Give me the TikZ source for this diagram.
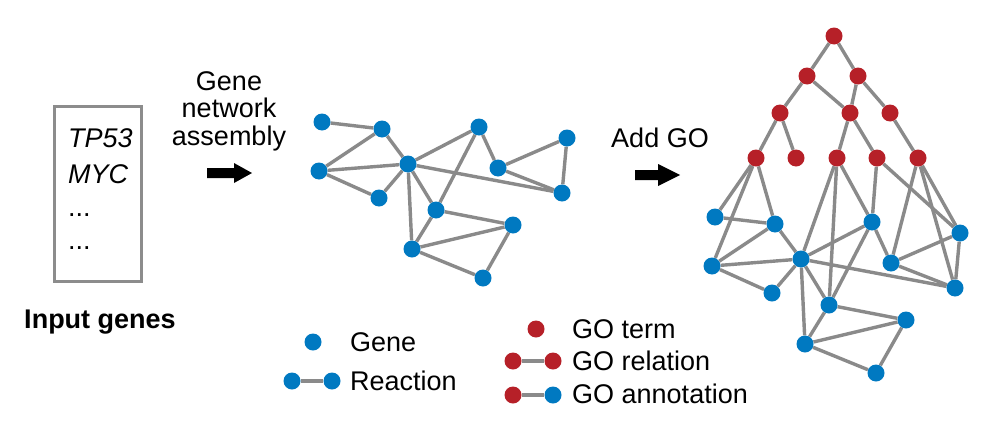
\documentclass[tikz,border=0pt]{standalone}
\usepackage{fontspec}
\setmainfont{Liberation Sans}
\usetikzlibrary{backgrounds}
\definecolor{geneblue}{RGB}{0,121,193}
\definecolor{gored}{RGB}{182,32,40}
\definecolor{edgegray}{RGB}{138,138,138}
\definecolor{boxgray}{RGB}{140,140,140}
\begin{document}
\begin{tikzpicture}[x=1pt,y=-1pt,
  gene/.style={circle,fill=geneblue,inner sep=0pt,minimum size=17pt},
  goterm/.style={circle,fill=gored,inner sep=0pt,minimum size=17pt},
  link/.style={draw=edgegray,line width=3.4pt},
  lbl/.style={font=\fontsize{27}{32}\selectfont,inner sep=0pt},
  blockarrow/.style={fill=black}]
\useasboundingbox (0,0) rectangle (1000,431);

% input box
\node[draw=boxgray,line width=3pt,minimum width=87pt,minimum height=175pt,inner sep=0pt] (box) at (98,194) {};
\node[lbl,anchor=base west] (g1) at (68,147) {\itshape TP53};
\node[lbl,anchor=base west] (g2) at (68,183) {\itshape MYC};
\node[lbl,anchor=base west] (g3) at (68,216) {...};
\node[lbl,anchor=base west] (g4) at (68,249) {...};
\node[lbl,anchor=base] (inlbl) at (100,328) {\bfseries Input genes};

% step labels
\node[lbl,anchor=base] (s1) at (229,90) {Gene};
\node[lbl,anchor=base] (s2) at (229,117) {network};
\node[lbl,anchor=base] (s3) at (229,145) {assembly};
\node[lbl,anchor=base] (s4) at (660,147) {Add GO};

% block arrows
\fill[blockarrow] (207,168) -- (234,168) -- (234,163) -- (252,173) -- (234,183) -- (234,178) -- (207,178) -- cycle;
\fill[blockarrow] (635,170) -- (658,170) -- (658,164) -- (680,175) -- (658,186) -- (658,180) -- (635,180) -- cycle;

% gene networks
\foreach \n/\x/\y in {A/322/122,B/382/129,C/319/171,D/408/164,E/379/198,F/479/127,G/567/138,H/498/168,I/562/193,J/436/210,K/513/225,L/412/249,M/483/278}{
  \node[gene] (m\n) at (\x,\y) {};
  \node[gene] (r\n) at (\x+393,\y+95) {};
}

% GO terms
\foreach \n/\x/\y in {t0/834/36,t1a/807/76,t1b/858/76,t2a/780/113,t2b/850/113,t2c/890/113,t3a/756/158,t3b/796/158,t3c/837/158,t3d/877/158,t3e/918/158}{
  \node[goterm] (\n) at (\x,\y) {};
}

% legend
\node[gene] (lgene) at (313,342) {};
\node[lbl,anchor=base west] (tgene) at (350,351) {Gene};
\node[gene] (lr1) at (292,381) {};
\node[gene] (lr2) at (332,381) {};
\node[lbl,anchor=base west] (treac) at (350,390) {Reaction};
\node[goterm] (lt) at (536,329) {};
\node[lbl,anchor=base west] (tterm) at (572,338) {GO term};
\node[goterm] (lrel1) at (513,361) {};
\node[goterm] (lrel2) at (553,361) {};
\node[lbl,anchor=base west] (trel) at (572,370) {GO relation};
\node[goterm] (lan1) at (513,395) {};
\node[gene] (lan2) at (553,395) {};
\node[lbl,anchor=base west] (tann) at (572,403) {GO annotation};

\begin{scope}[on background layer]
  \foreach \a/\b in {A/B,B/C,B/D,C/D,C/E,E/D,D/F,D/I,D/J,D/L,F/J,F/H,H/G,H/I,G/I,J/K,J/L,L/K,L/M,K/M}{
    \draw[link] (m\a) -- (m\b);
    \draw[link] (r\a) -- (r\b);
  }
  \foreach \a/\b in {t0/t1a,t0/t1b,t1a/t2a,t1a/t2b,t1b/t2b,t1b/t2c,t2a/t3a,t2a/t3b,t2b/t3c,t2b/t3d,t2c/t3e}{
    \draw[link] (\a) -- (\b);
  }
  \foreach \a/\b in {t3a/rA,t3a/rC,t3a/rB,t3c/rD,t3c/rJ,t3c/rF,t3d/rF,t3d/rG,t3e/rH,t3e/rI,t3e/rG}{
    \draw[link] (\a) -- (\b);
  }
  \draw[link] (lr1) -- (lr2);
  \draw[link] (lrel1) -- (lrel2);
  \draw[link] (lan1) -- (lan2);
\end{scope}
\end{tikzpicture}
\end{document}
